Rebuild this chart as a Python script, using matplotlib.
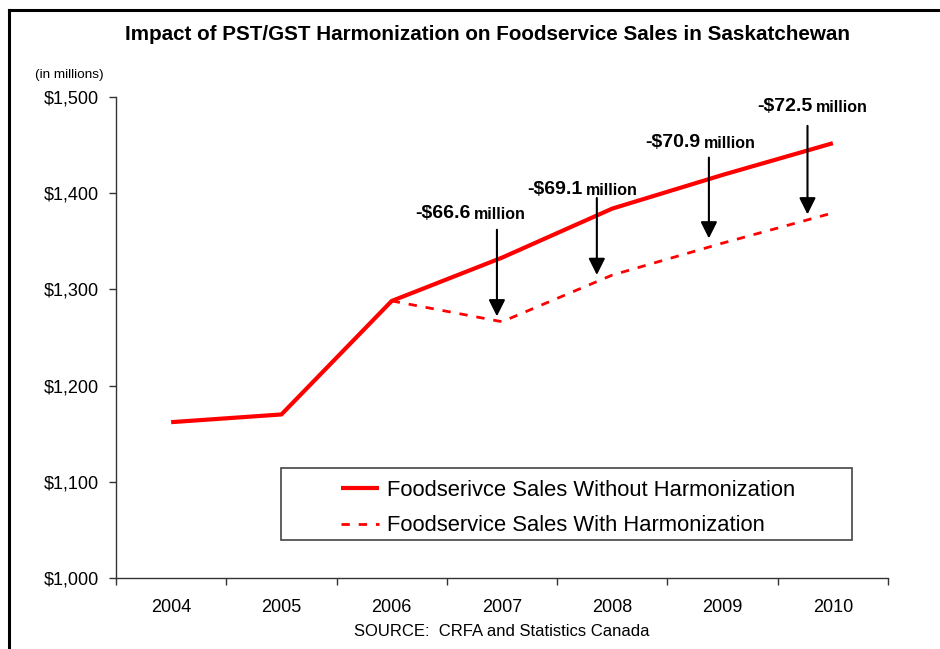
import matplotlib
matplotlib.use("Agg")
import matplotlib.pyplot as plt
from matplotlib.lines import Line2D
from matplotlib.patches import Rectangle
from matplotlib.ticker import FixedLocator, NullFormatter

plt.rcParams['font.family'] = ['Liberation Sans', 'DejaVu Sans']

years = ['2004', '2005', '2006', '2007', '2008', '2009', '2010']
without_harm = [1162, 1170, 1288, 1333, 1384, 1419, 1452]
with_years_idx = [2, 3, 4, 5, 6]
with_harm = [1288, 1266.4, 1314.9, 1348.1, 1379.5]
impact_values = ['-$66.6', '-$69.1', '-$70.9', '-$72.5']
yticks = [1000, 1100, 1200, 1300, 1400, 1500]
ytick_labels = ['$1,000', '$1,100', '$1,200', '$1,300', '$1,400', '$1,500']

W, H = 940, 649
fig = plt.figure(figsize=(W / 100, H / 100), dpi=100)
ax = fig.add_axes([116 / W, 1 - 578 / H, (888 - 116) / W, (578 - 97) / H])

x = list(range(len(years)))
ax.plot(x, without_harm, color='#FF0000', lw=3, solid_capstyle='butt',
        label='Foodserivce Sales Without Harmonization', zorder=3)
ax.plot(with_years_idx, with_harm, color='#FF0000', lw=2, linestyle=(0, (3, 3.2)),
        label='Foodservice Sales With Harmonization', zorder=3)

ax.set_xlim(-0.5, len(years) - 0.5)
ax.set_ylim(1000, 1500)
ax.set_yticks(yticks)
ax.set_yticklabels(ytick_labels)
ax.xaxis.set_major_locator(FixedLocator([i - 0.5 for i in range(len(years) + 1)]))
ax.xaxis.set_major_formatter(NullFormatter())
ax.xaxis.set_minor_locator(FixedLocator(x))
ax.set_xticklabels(years, minor=True)
ax.tick_params(axis='x', which='major', direction='out', length=5, width=1, color='#333333')
ax.tick_params(axis='x', which='minor', length=0, pad=15, labelsize=13)
ax.tick_params(axis='y', direction='out', length=5, width=1, color='#333333', pad=7, labelsize=13)
for s in ['top', 'right']:
    ax.spines[s].set_visible(False)
for s in ['left', 'bottom']:
    ax.spines[s].set_color('#333333')
    ax.spines[s].set_linewidth(1)

# Arrows showing the impact
arrow_x = [2.954, 3.86, 4.876, 5.77]
arrow_top = [1362, 1395, 1437, 1470]
arrow_bot = [1272, 1315, 1353, 1378]
label_x = [2.727, 3.748, 4.817, 5.833]
label_y = [1379, 1404, 1453, 1490]
for i in range(4):
    ax.annotate('', xy=(arrow_x[i], arrow_bot[i]), xytext=(arrow_x[i], arrow_top[i]),
                arrowprops=dict(arrowstyle='-|>', color='black', lw=1.5,
                                mutation_scale=25, shrinkA=0, shrinkB=0), zorder=4)
    ax.text(label_x[i] - 0.015, label_y[i], impact_values[i], ha='right', va='center',
            fontsize=14, fontweight='bold', zorder=5)
    ax.text(label_x[i] + 0.015, label_y[i] - 1, 'million', ha='left', va='center',
            fontsize=11.5, fontweight='bold', zorder=5)

# Legend box and content
def px2ax(px, py):
    return ((px - 116) / (888 - 116), 1 - (py - 97) / (578 - 97))

bx0, by0 = px2ax(281, 540)
bx1, by1 = px2ax(852, 468)
ax.add_patch(Rectangle((bx0, by0), bx1 - bx0, by1 - by0, transform=ax.transAxes,
                       facecolor='white', edgecolor='#444444', lw=1.2, zorder=6))
cx, cy = px2ax(568, 508)
leg = ax.legend(loc='center', bbox_to_anchor=(cx, cy), frameon=False, fontsize=15.8,
                handlelength=1.75, labelspacing=0.68, handletextpad=0.35, borderpad=0, borderaxespad=0)
leg.set_zorder(7)

fig.text(487 / W, 1 - 35 / H, 'Impact of PST/GST Harmonization on Foodservice Sales in Saskatchewan',
         ha='center', va='center', fontsize=14.9, fontweight='bold')
fig.text(69 / W, 1 - 75 / H, '(in millions)', ha='center', va='center', fontsize=9.7)
fig.text(502 / W, 1 - 632 / H, 'SOURCE:  CRFA and Statistics Canada', ha='center', va='center', fontsize=12)

# Figure border (top and left visible)
fig.add_artist(Line2D([9 / W, 9 / W], [-0.01, 1 - 10 / H], color='black', lw=2.2, transform=fig.transFigure))
fig.add_artist(Line2D([9 / W, 1.01], [1 - 10 / H, 1 - 10 / H], color='black', lw=2.2, transform=fig.transFigure))

fig.savefig('out.png', dpi=100)
